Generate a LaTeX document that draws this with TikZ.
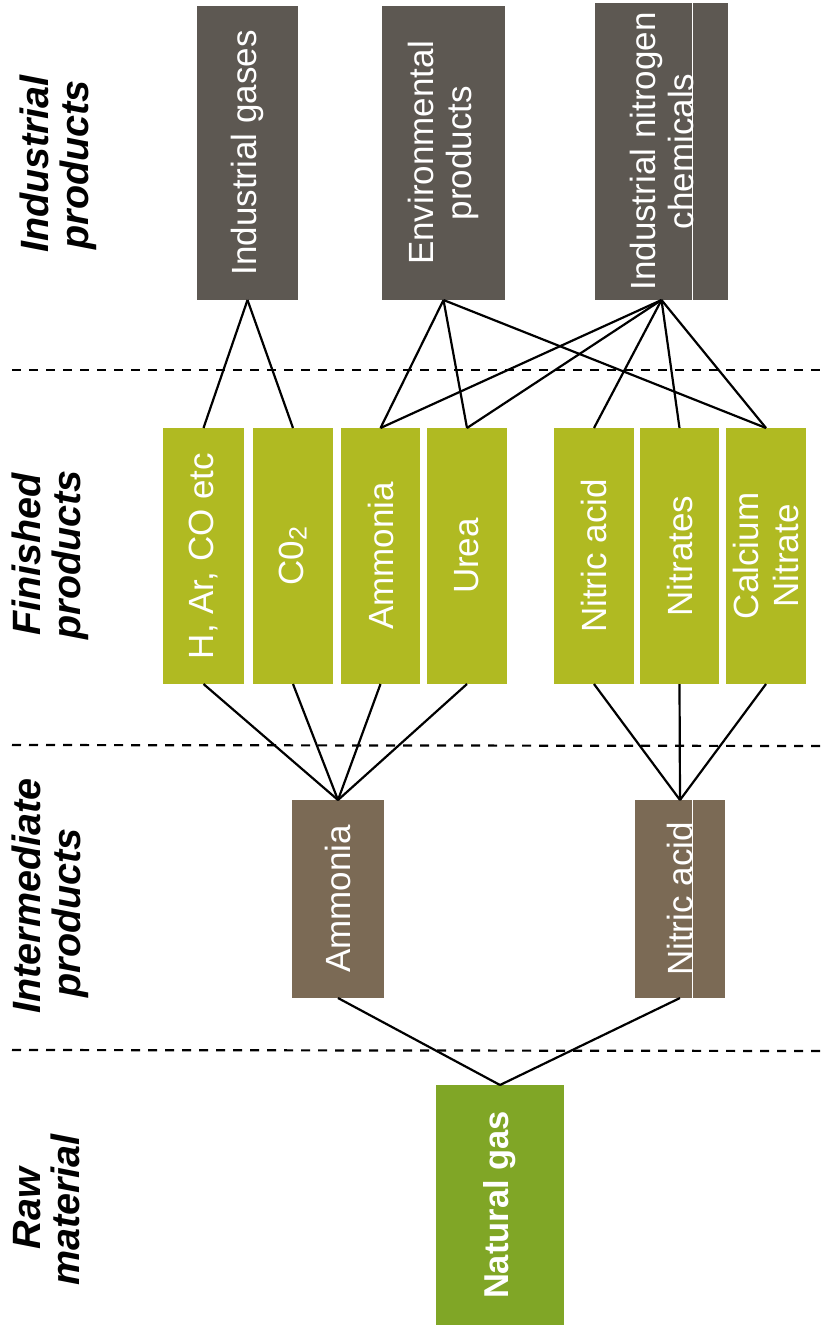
\documentclass[tikz,border=0pt]{standalone}
\usepackage{fontspec}
\setmainfont{Liberation Sans}
\definecolor{indgrey}{RGB}{93,88,82}
\definecolor{finolive}{RGB}{176,186,34}
\definecolor{intbrown}{RGB}{123,106,85}
\definecolor{rawgreen}{RGB}{128,166,38}
\begin{document}
\begin{tikzpicture}[x=1pt,y=-1pt,
  box/.style={draw=none, inner sep=0pt, outer sep=0pt},
  gbox/.style={box, fill=indgrey, minimum height=294pt},
  fbox/.style={box, fill=finolive, minimum height=256pt},
  ibox/.style={box, fill=intbrown, minimum height=198pt},
  txt/.style={text=white, rotate=90, align=center, inner sep=0pt,
    font=\fontsize{35}{38}\selectfont},
  lab/.style={rotate=90, anchor=base, inner sep=0pt,
    font=\fontsize{39.5}{40}\selectfont\bfseries\itshape},
  link/.style={line width=2.2pt, black},
  sepline/.style={line width=2.2pt, black, dash pattern=on 9pt off 8pt},
  split/.style={white, line width=1pt}]
\useasboundingbox (0,0) rectangle (826,1332);

% separators
\coordinate (s1l) at (12,370);  \coordinate (s1r) at (826,370);
\coordinate (s2l) at (12,745);  \coordinate (s2r) at (826,746);
\coordinate (s3l) at (12,1050); \coordinate (s3r) at (826,1051);
\draw[sepline] (s1l) -- (s1r);
\draw[sepline] (s2l) -- (s2r);
\draw[sepline] (s3l) -- (s3r);

% left labels
\node[lab] (l1a) at (48,164) {Industrial};
\node[lab] (l1b) at (88,165) {products};
\node[lab] (l2a) at (40,554.5) {Finished};
\node[lab] (l2b) at (80,555) {products};
\node[lab] (l3a) at (40,896) {Intermediate};
\node[lab] (l3b) at (80,913) {products};
\node[lab] (l4a) at (40,1208.5) {Raw};
\node[lab] (l4b) at (79,1210) {material};

% industrial products
\node[gbox, minimum width=101pt] (ig) at (247.5,153) {};
\node[gbox, minimum width=123pt] (ep) at (443.5,153) {};
\node[gbox, minimum width=133pt, minimum height=297pt] (inc) at (661.5,151.5) {};
\coordinate (w1t) at (692.5,3); \coordinate (w1b) at (692.5,300);
\draw[split] (w1t) -- (w1b);
\node[txt] (tig) at (ig) {Industrial gases};
\node[txt] (tep) at (ep) {Environmental\\products};
\node[txt] (tinc) at (inc) {Industrial nitrogen\\chemicals};

% finished products
\node[fbox, minimum width=81pt] (fh) at (203.5,556) {};
\node[fbox, minimum width=80pt] (fc) at (293,556) {};
\node[fbox, minimum width=79pt] (fa) at (380.5,556) {};
\node[fbox, minimum width=80pt] (fu) at (467,556) {};
\node[fbox, minimum width=80pt] (fn) at (594,556) {};
\node[fbox, minimum width=79pt] (fs) at (679.5,556) {};
\node[fbox, minimum width=80pt] (fca) at (766,556) {};
\node[txt] (tfh) at (fh) {H, Ar, CO etc};
\node[txt] (tfc) at (fc) {C0\raisebox{-3pt}{\fontsize{25}{25}\selectfont 2}};
\node[txt] (tfa) at (fa) {Ammonia};
\node[txt] (tfu) at (fu) {Urea};
\node[txt] (tfn) at (fn) {Nitric acid};
\node[txt] (tfs) at (fs) {Nitrates};
\node[txt, font=\fontsize{35}{40}\selectfont] (tfca) at (fca) {Calcium\\Nitrate};

% intermediate products
\node[ibox, minimum width=92pt] (ia) at (338,899) {};
\node[ibox, minimum width=90pt] (in) at (680,899) {};
\coordinate (w2t) at (692,800); \coordinate (w2b) at (692,998);
\draw[split] (w2t) -- (w2b);
\node[txt] (tia) at (ia) {Ammonia};
\node[txt] (tin) at (in) {Nitric acid};

% raw material
\node[box, fill=rawgreen, minimum width=128pt, minimum height=240pt] (ng) at (500,1205) {};
\node[txt, font=\fontsize{34.5}{38}\selectfont\bfseries] (tng) at (ng) {Natural gas};

% connectors
\draw[link] (ig.south) -- (fh.north);
\draw[link] (ig.south) -- (fc.north);
\draw[link] (ep.south) -- (fa.north);
\draw[link] (ep.south) -- (fu.north);
\draw[link] (ep.south) -- (fca.north);
\draw[link] (inc.south) -- (fa.north);
\draw[link] (inc.south) -- (fu.north);
\draw[link] (inc.south) -- (fn.north);
\draw[link] (inc.south) -- (fs.north);
\draw[link] (inc.south) -- (fca.north);

\draw[link] (fh.south) -- (ia.north);
\draw[link] (fc.south) -- (ia.north);
\draw[link] (fa.south) -- (ia.north);
\draw[link] (fu.south) -- (ia.north);
\draw[link] (fn.south) -- (in.north);
\draw[link] (fs.south) -- (in.north);
\draw[link] (fca.south) -- (in.north);

\draw[link] (ia.south) -- (ng.north);
\draw[link] (in.south) -- (ng.north);
\end{tikzpicture}
\end{document}
